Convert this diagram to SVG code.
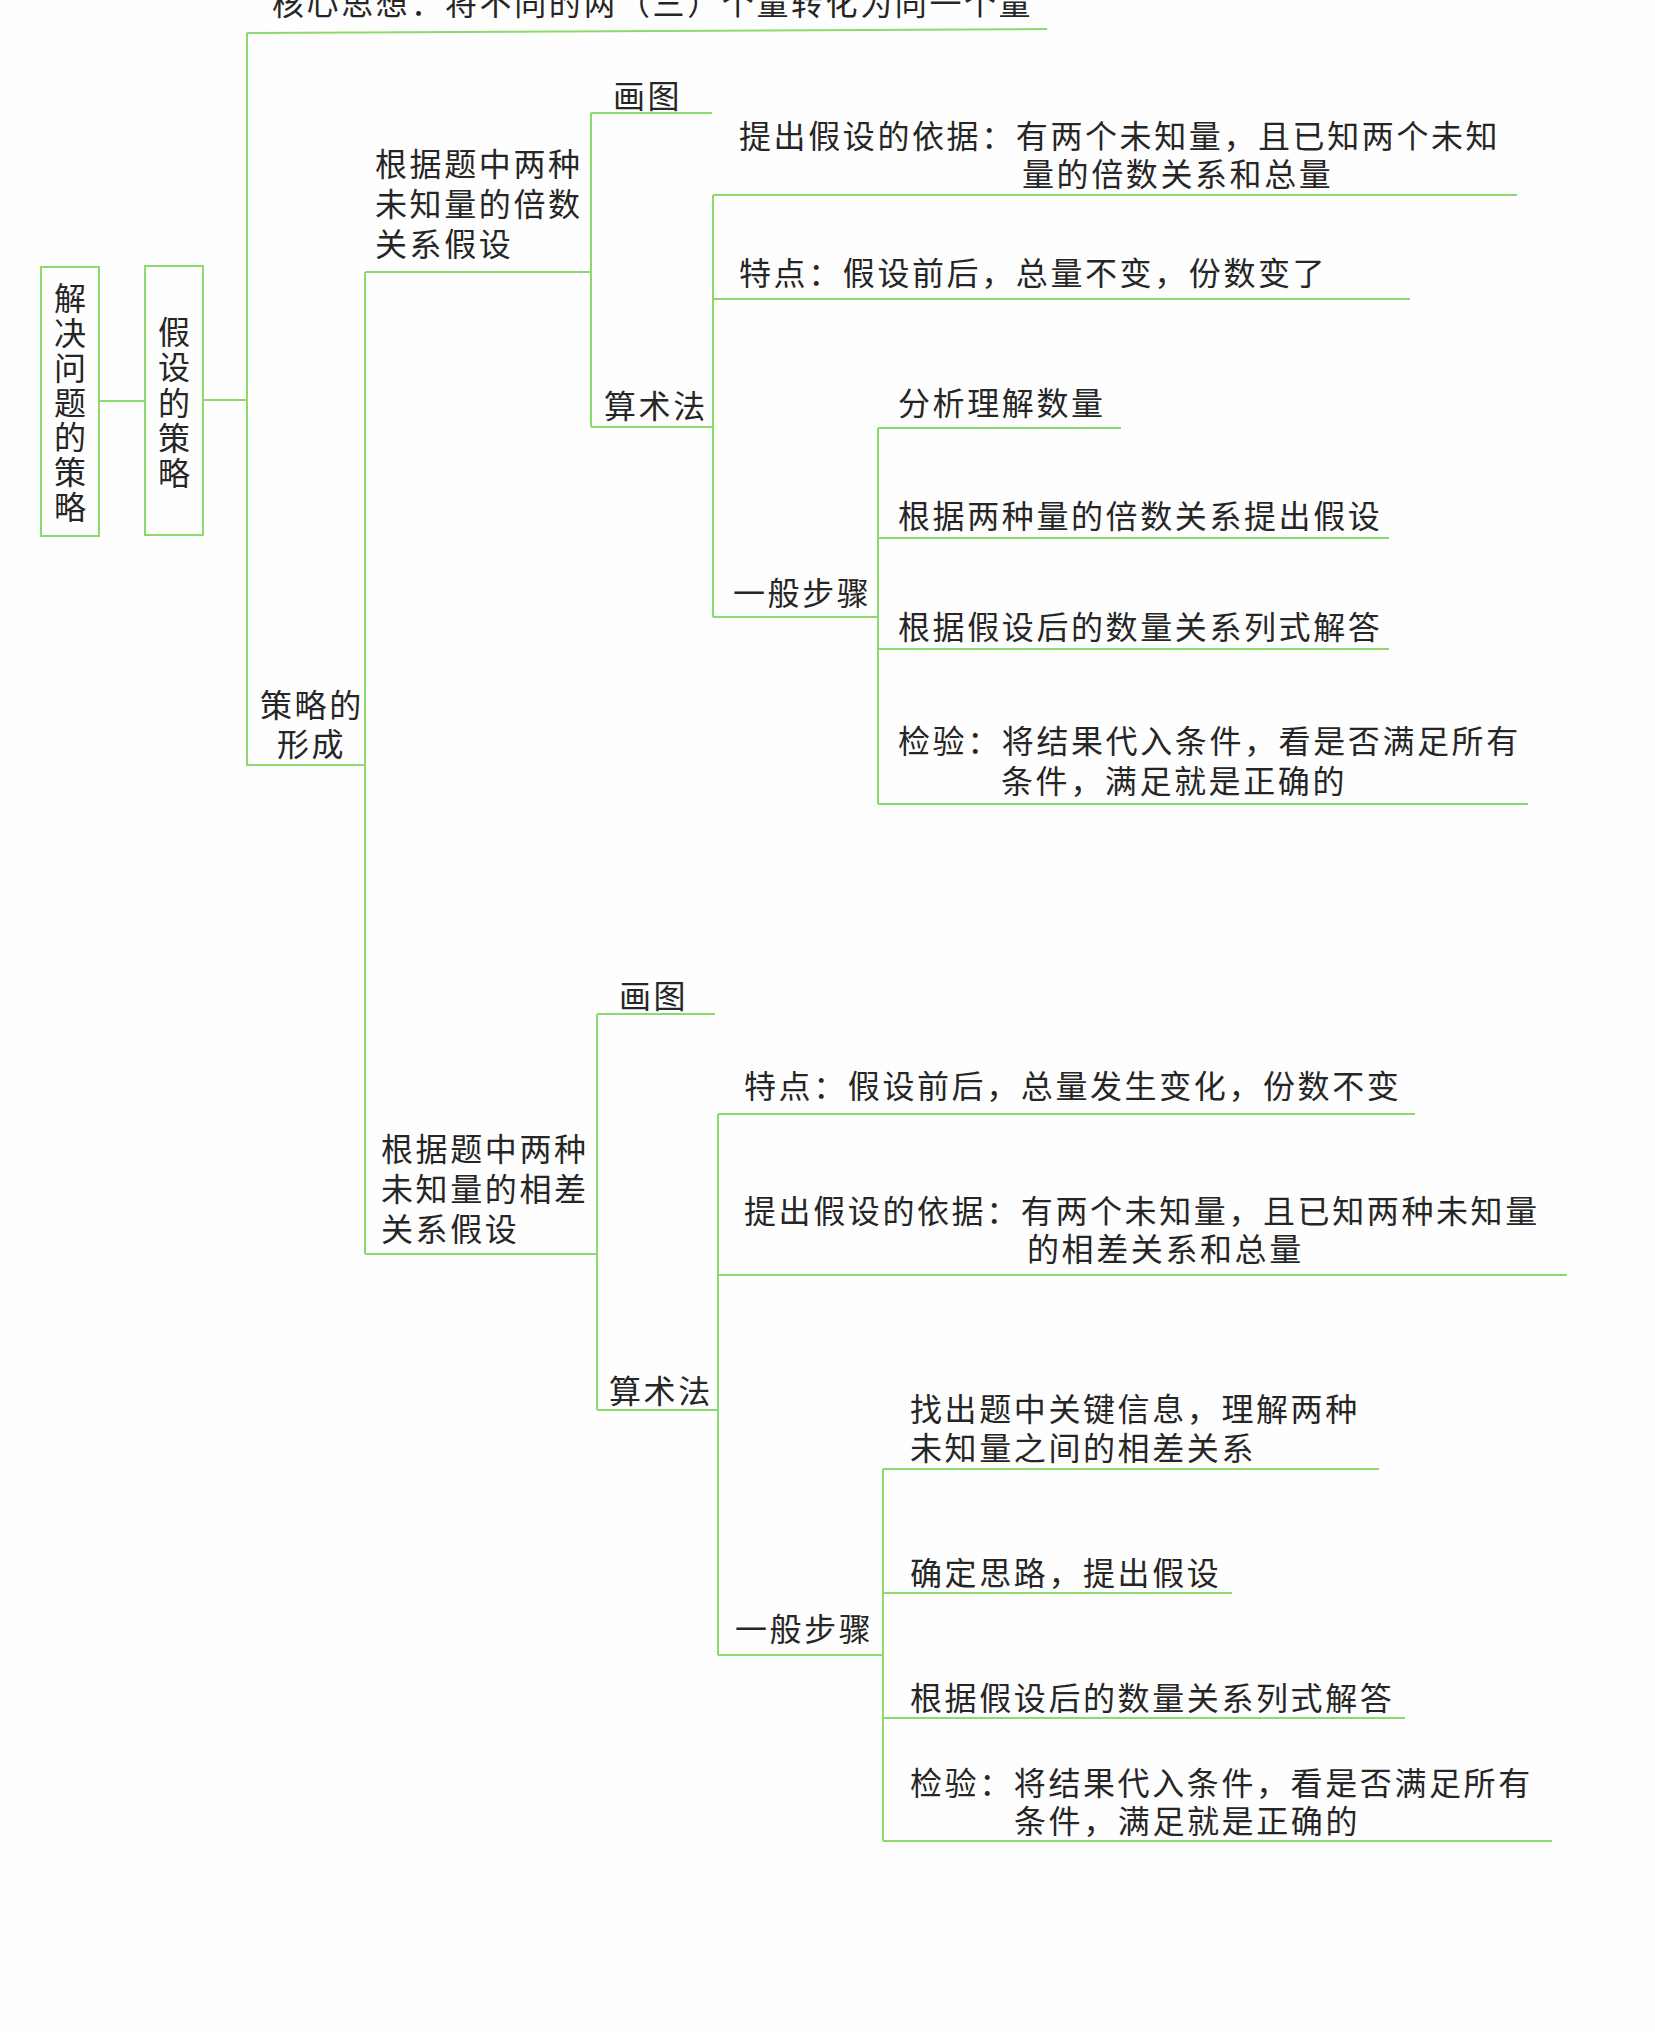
<svg xmlns="http://www.w3.org/2000/svg" width="1655" height="2032" viewBox="0 0 1655 2032">
<style>
.t{font-family:"Noto Sans CJK SC","Noto Sans",sans-serif;font-size:32px;fill:#262626;letter-spacing:2.6px}
.v{font-family:"Noto Sans CJK SC","Noto Sans",sans-serif;font-size:32px;fill:#262626;writing-mode:vertical-rl}
.c{stroke:#8cd96c;stroke-width:2;fill:none}
.b{stroke:#8cd96c;stroke-width:2;fill:none}
</style>
<rect width="1655" height="2032" fill="#fefefe"/>
<g id="connectors" class="c">
<path d="M99,401H145"/>
<path d="M203,400H247"/>
<path d="M247,33L1047,29"/>
<path d="M247,33V765H365"/>
<path d="M365,272V1254"/>
<path d="M365,272H591"/>
<path d="M591,113V427"/>
<path d="M591,113H712"/>
<path d="M591,427H713"/>
<path d="M713,195V617"/>
<path d="M713,195H1517"/>
<path d="M713,299H1410"/>
<path d="M713,617H878"/>
<path d="M878,428V804"/>
<path d="M878,428H1121"/>
<path d="M878,538H1389"/>
<path d="M878,649H1389"/>
<path d="M878,804H1528"/>
<path d="M365,1254H597"/>
<path d="M597,1014V1410"/>
<path d="M597,1014H715"/>
<path d="M597,1410H718"/>
<path d="M718,1114V1655"/>
<path d="M718,1114H1415"/>
<path d="M718,1275H1567"/>
<path d="M718,1655H883"/>
<path d="M883,1469V1841"/>
<path d="M883,1469H1379"/>
<path d="M883,1593H1232"/>
<path d="M883,1718H1405"/>
<path d="M883,1841H1552"/>
</g>
<g id="root">
<rect class="b" x="41" y="267" width="58" height="269"/>
<text class="v" x="70" y="282" style="letter-spacing:2.8px">解决问题的策略</text>
</g>
<g id="n-jiashe">
<rect class="b" x="145" y="266" width="58" height="269"/>
<text class="v" x="174" y="316" style="letter-spacing:3.2px">假设的策略</text>
</g>
<g id="n-hexin"><text class="t" x="272" y="15">核心思想：将不同的两（三）个量转化为同一个量</text></g>
<g id="n-xingcheng"><text class="t"><tspan x="260" y="717">策略的</tspan><tspan x="277" y="756">形成</tspan></text></g>
<g id="n-beishu"><text class="t"><tspan x="375" y="176">根据题中两种</tspan><tspan x="375" y="216">未知量的倍数</tspan><tspan x="375" y="256">关系假设</tspan></text></g>
<g id="n-huatu1"><text class="t" x="613" y="108">画图</text></g>
<g id="n-suanshu1"><text class="t" x="604" y="418">算术法</text></g>
<g id="n-yiju1"><text class="t"><tspan x="739" y="148">提出假设的依据：有两个未知量，且已知两个未知</tspan><tspan x="1022" y="186">量的倍数关系和总量</tspan></text></g>
<g id="n-tedian1"><text class="t" x="739" y="285">特点：假设前后，总量不变，份数变了</text></g>
<g id="n-buzhou1"><text class="t" x="733" y="605">一般步骤</text></g>
<g id="n-s11"><text class="t" x="898" y="415">分析理解数量</text></g>
<g id="n-s12"><text class="t" x="898" y="528">根据两种量的倍数关系提出假设</text></g>
<g id="n-s13"><text class="t" x="898" y="639">根据假设后的数量关系列式解答</text></g>
<g id="n-s14"><text class="t"><tspan x="898" y="753">检验：将结果代入条件，看是否满足所有</tspan><tspan x="1001" y="793">条件，满足就是正确的</tspan></text></g>
<g id="n-xiangcha"><text class="t"><tspan x="381" y="1161">根据题中两种</tspan><tspan x="381" y="1201">未知量的相差</tspan><tspan x="381" y="1241">关系假设</tspan></text></g>
<g id="n-huatu2"><text class="t" x="619" y="1008">画图</text></g>
<g id="n-suanshu2"><text class="t" x="609" y="1403">算术法</text></g>
<g id="n-tedian2"><text class="t" x="744" y="1098">特点：假设前后，总量发生变化，份数不变</text></g>
<g id="n-yiju2"><text class="t"><tspan x="744" y="1223">提出假设的依据：有两个未知量，且已知两种未知量</tspan><tspan x="1027" y="1261">的相差关系和总量</tspan></text></g>
<g id="n-buzhou2"><text class="t" x="735" y="1641">一般步骤</text></g>
<g id="n-s21"><text class="t"><tspan x="910" y="1421">找出题中关键信息，理解两种</tspan><tspan x="910" y="1460">未知量之间的相差关系</tspan></text></g>
<g id="n-s22"><text class="t" x="910" y="1585">确定思路，提出假设</text></g>
<g id="n-s23"><text class="t" x="910" y="1710">根据假设后的数量关系列式解答</text></g>
<g id="n-s24"><text class="t"><tspan x="910" y="1795">检验：将结果代入条件，看是否满足所有</tspan><tspan x="1014" y="1833">条件，满足就是正确的</tspan></text></g>
</svg>
